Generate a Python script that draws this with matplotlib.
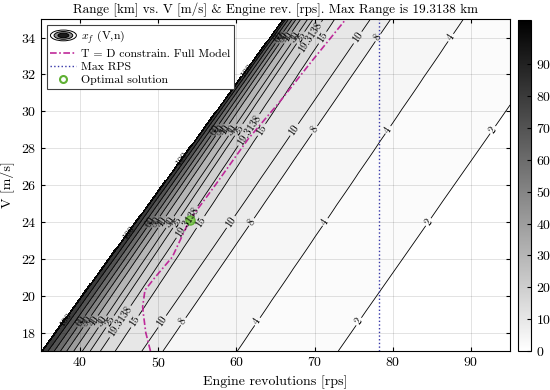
import numpy as np
import matplotlib.pyplot as plt
from matplotlib.legend_handler import HandlerBase
from matplotlib.patches import Ellipse, Patch
from matplotlib.lines import Line2D
from matplotlib.colors import Normalize
from matplotlib.cm import ScalarMappable

plt.rcParams['font.family'] = 'serif'
plt.rcParams['font.serif'] = ['cmr10', 'DejaVu Serif']
plt.rcParams['mathtext.fontset'] = 'cm'
plt.rcParams['axes.formatter.use_mathtext'] = True

# contour levels of range [km] and where each line sits (engine rps) at V=17 and V=34
levels = [2, 4, 8, 10, 15, 19.3138, 25, 30, 40, 50, 60, 70, 80, 100]
n_at_v17 = [73.0, 60.1, 50.6, 47.9, 44.5, 42.6, 41.3, 40.3, 39.2, 38.3, 37.5, 36.7, 35.9, 35.2]
n_at_v34 = [101.0, 87.4, 78.1, 75.5, 71.0, 69.5, 68.2, 67.5, 66.6, 66.0, 65.5, 65.0, 64.6, 64.35]
edge_range = 104.0          # feasible-region edge (max of colour scale)
edge_n = [35.0, 64.2]
zero_n = [110.0, 140.0]

# T = D constraint curve
td_n = [49.0, 48.4, 48.1, 48.0, 48.3, 49.6, 51.8, 54.0, 57.3, 61.5, 65.5, 69.6, 74.0]
td_v = [17.0, 18.0, 19.0, 19.4, 20.3, 21.0, 22.1, 24.1, 26.0, 28.5, 30.5, 32.7, 35.0]

max_rps = 78.2
opt_n, opt_v = 54.0, 24.1
max_range = 19.3138

# label rows (V) along the lines
label_rows = [18.6, 24.0, 29.0, 34.0]
label_rows_hi = [18.7, 23.4, 27.4, 32.2]

# build the range field from the line positions
nn = np.linspace(35, 95, 600)
vv = np.linspace(17, 35, 300)
N, V = np.meshgrid(nn, vv)
Z = np.full(N.shape, np.nan)
lev_all = np.array([edge_range] + levels[::-1] + [0.0])
a17 = np.array([edge_n[0]] + n_at_v17[::-1] + [zero_n[0]])
a34 = np.array([edge_n[1]] + n_at_v34[::-1] + [zero_n[1]])
for i, v in enumerate(vv):
    pos = a17 + (a34 - a17) * (v - 17) / 17.0
    Z[i] = np.interp(nn, pos, lev_all, left=np.nan, right=0.0)

def line_n(k, v):
    return n_at_v17[k] + (n_at_v34[k] - n_at_v17[k]) * (v - 17) / 17.0

fig = plt.figure(figsize=(5.5, 3.9), dpi=100)
ax = fig.add_axes([0.0745, 0.1, 0.853, 0.851])
cax = fig.add_axes([0.942, 0.1, 0.023, 0.849])

norm = Normalize(0, edge_range)
cmap = plt.get_cmap('gray_r')
fill_levels = [0] + levels + [edge_range]
band_colors = [cmap(norm(l)) for l in fill_levels[:-1]]   # band takes colour of its lower level
ax.contourf(N, V, Z, levels=fill_levels, colors=band_colors)
cs = ax.contour(N, V, Z, levels=levels, colors='k', linewidths=0.6)

label_pos = []
for k, lv in enumerate(levels):
    if lv == 100:
        rows = label_rows_hi
    elif lv > 65:
        continue
    else:
        rows = label_rows
    for v in rows:
        x = line_n(k, v)
        if 35 < x < 94.5:
            label_pos.append((x, v))
texts = ax.clabel(cs, levels=levels, manual=label_pos,
                  fmt=lambda x: f'{x:g}', fontsize=7.5, inline=True, inline_spacing=2)
for t in texts:
    if float(t.get_text()) > 65:
        t.set_fontsize(7)
        t.set_fontweight('bold')

ax.plot(td_n, td_v, color='#bf2a9a', lw=1.2, ls='-.', dashes=(4, 1.5, 1, 1.5))
ax.axvline(max_rps, color='#3535a8', lw=1.0, ls=':')
ax.plot(opt_n, opt_v, 'o', ms=6.5, mfc='#86c95a', mec='#5fb033', mew=1)

ax.set_xlim(35, 95)
ax.set_ylim(17, 35)
ax.set_xticks([40, 50, 60, 70, 80, 90])
ax.set_yticks(np.arange(18, 35, 2))
ax.tick_params(direction='in', top=True, right=True, labelsize=10, length=3)
ax.grid(True, color='k', alpha=0.13, lw=0.6)
ax.set_axisbelow(False)
ax.set_xlabel('Engine revolutions [rps]', fontsize=10)
ax.set_ylabel('V [m/s]', fontsize=10)
ax.set_title('Range [km] vs. V [m/s] & Engine rev. [rps]. Max Range is %g km' % max_range,
             fontsize=9.5, pad=4)


class ContourIcon(HandlerBase):
    def create_artists(self, legend, orig_handle, xdescent, ydescent, width, height, fontsize, trans):
        cx = width / 2 - xdescent
        cy = height / 2 - ydescent
        arts = []
        for s, fc in [(1.0, 'white'), (0.72, '0.55'), (0.42, '0.1')]:
            arts.append(Ellipse((cx, cy), width * s, height * 1.3 * s, facecolor=fc,
                                edgecolor='k', lw=0.7, transform=trans))
        return arts


icon = Patch()
handles = [icon,
           Line2D([], [], color='#bf2a9a', lw=1.2, ls='-.', dashes=(4, 1.5, 1, 1.5)),
           Line2D([], [], color='#3535a8', lw=1.0, ls=':'),
           Line2D([], [], ls='none', marker='o', ms=5, mfc='none', mec='#5fb033', mew=1.5)]
names = ['$x_f$ (V,n)', 'T = D constrain. Full Model', 'Max RPS', 'Optimal solution']
leg = ax.legend(handles, names, loc='upper left', fontsize=8.5, handler_map={icon: ContourIcon()},
                fancybox=False, framealpha=1, edgecolor='0.25', handlelength=2.2,
                borderpad=0.3, labelspacing=0.25, handletextpad=0.4, borderaxespad=0.5)
leg.get_frame().set_linewidth(0.8)

cb = fig.colorbar(ScalarMappable(norm=norm, cmap=cmap), cax=cax, ticks=range(0, 100, 10))
cb.ax.tick_params(direction='in', labelsize=10, length=3)
cb.outline.set_linewidth(0.8)

fig.savefig('out.png', dpi=100)
